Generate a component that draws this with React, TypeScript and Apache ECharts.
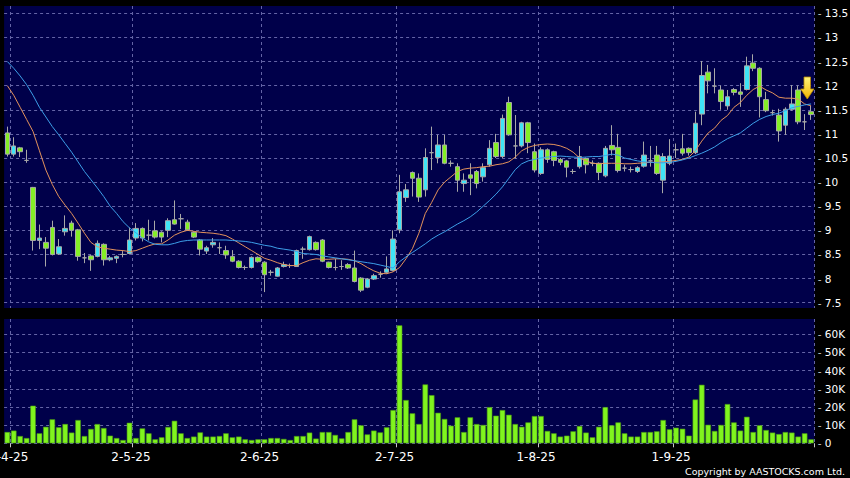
import React, { useEffect, useRef } from "react";
import * as echarts from "echarts";

const dates = [
  "31-3-25",
  "1-4-25","2-4-25","3-4-25","7-4-25","8-4-25","9-4-25","10-4-25","11-4-25","14-4-25","15-4-25","16-4-25","17-4-25","22-4-25","23-4-25","24-4-25","25-4-25","28-4-25","29-4-25","30-4-25",
  "2-5-25","6-5-25","7-5-25","8-5-25","9-5-25","12-5-25","13-5-25","14-5-25","15-5-25","16-5-25","19-5-25","20-5-25","21-5-25","22-5-25","23-5-25","26-5-25","27-5-25","28-5-25","29-5-25","30-5-25",
  "2-6-25","3-6-25","4-6-25","5-6-25","6-6-25","9-6-25","10-6-25","11-6-25","12-6-25","13-6-25","16-6-25","17-6-25","18-6-25","19-6-25","20-6-25","23-6-25","24-6-25","25-6-25","26-6-25","27-6-25","30-6-25",
  "2-7-25","3-7-25","4-7-25","7-7-25","8-7-25","9-7-25","10-7-25","11-7-25","14-7-25","15-7-25","16-7-25","17-7-25","18-7-25","21-7-25","22-7-25","23-7-25","24-7-25","25-7-25","28-7-25","29-7-25","30-7-25","31-7-25",
  "1-8-25","4-8-25","5-8-25","6-8-25","7-8-25","8-8-25","11-8-25","12-8-25","13-8-25","14-8-25","15-8-25","18-8-25","19-8-25","20-8-25","21-8-25","22-8-25","25-8-25","26-8-25","27-8-25","28-8-25","29-8-25",
  "1-9-25","2-9-25","3-9-25","4-9-25","5-9-25","8-9-25","9-9-25","10-9-25","11-9-25","12-9-25","15-9-25","16-9-25","17-9-25","18-9-25","19-9-25","22-9-25","23-9-25","24-9-25","25-9-25","26-9-25","29-9-25","30-9-25",
];

const tickDates = ["1-4-25", "2-5-25", "2-6-25", "2-7-25", "1-8-25", "1-9-25"];

// [open, close, low, high]
const candles: number[][] = [
  [11.02,10.58,10.53,11.15],[10.58,10.75,10.53,10.93],[10.71,10.63,10.52,10.73],[10.45,10.45,10.40,10.67],
  [9.89,8.79,8.58,9.90],[8.79,8.84,8.61,9.12],[8.75,8.63,8.25,8.86],[9.06,8.50,8.48,9.20],[8.51,8.66,8.49,8.82],
  [8.97,9.04,8.89,9.31],[9.15,9.00,8.87,9.20],[9.01,8.46,8.37,9.03],[8.43,8.43,8.32,8.53],[8.47,8.39,8.16,8.49],
  [8.46,8.73,8.44,8.79],[8.71,8.39,8.27,8.73],[8.39,8.43,8.36,8.47],[8.42,8.46,8.32,8.48],[8.50,8.50,8.44,8.57],
  [8.52,8.80,8.50,9.06],[8.84,9.04,8.79,9.15],[9.04,8.84,8.77,9.06],[8.90,8.90,8.79,9.22],[8.99,8.86,8.83,9.20],
  [8.96,8.86,8.75,8.98],[9.00,9.20,8.86,9.25],[9.22,9.13,9.12,9.62],[9.24,9.24,9.03,9.34],[9.17,9.01,8.99,9.22],
  [8.96,8.86,8.84,8.98],[8.80,8.61,8.48,8.82],[8.57,8.64,8.51,8.68],[8.70,8.75,8.64,8.84],[8.64,8.64,8.51,8.75],
  [8.58,8.49,8.41,8.68],[8.46,8.36,8.34,8.59],[8.36,8.23,8.21,8.38],[8.23,8.23,8.18,8.27],[8.23,8.44,8.21,8.46],
  [8.44,8.35,8.33,8.46],[8.34,8.08,7.72,8.36],[8.13,8.13,8.06,8.18],[8.05,8.22,8.04,8.24],[8.25,8.29,8.23,8.35],
  [8.27,8.27,8.22,8.31],[8.25,8.58,8.24,8.60],[8.61,8.61,8.41,8.66],[8.60,8.87,8.58,8.89],[8.75,8.60,8.58,8.77],
  [8.80,8.36,8.34,8.82],[8.34,8.23,8.21,8.35],[8.23,8.23,8.17,8.41],[8.25,8.25,8.18,8.38],[8.29,8.22,8.20,8.32],
  [8.22,7.94,7.92,8.58],[8.01,7.76,7.72,8.03],[7.82,7.99,7.80,8.01],[7.99,8.06,7.97,8.10],[8.09,8.09,8.02,8.15],
  [8.13,8.20,8.10,8.46],[8.17,8.82,8.15,9.00],[9.01,9.80,8.94,10.15],[9.68,9.84,9.59,9.96],[10.20,10.08,9.70,10.22],
  [10.08,9.69,9.59,10.18],[9.84,10.51,9.70,10.70],[10.61,10.61,10.25,11.15],[10.51,10.77,10.39,10.98],[10.77,10.39,10.37,10.98],
  [10.39,10.39,10.32,10.45],[10.32,10.04,9.80,10.39],[9.97,10.04,9.80,10.18],[10.15,10.08,9.73,10.39],[10.22,9.97,9.87,10.25],
  [10.11,10.30,10.01,10.39],[10.36,10.70,10.32,10.87],[10.82,10.53,10.50,11.00],[10.53,11.32,10.50,11.40],[11.65,10.98,10.96,11.77],
  [10.75,10.75,10.49,11.39],[10.75,11.23,10.72,11.25],[11.23,10.82,10.60,11.25],[10.63,10.25,10.20,10.80],[10.18,10.67,10.15,10.72],
  [10.67,10.47,10.40,10.70],[10.63,10.45,10.33,10.65],[10.47,10.41,10.35,10.50],[10.44,10.31,10.10,10.46],[10.22,10.22,10.17,10.27],
  [10.32,10.53,10.28,10.75],[10.49,10.36,10.18,10.51],[10.39,10.39,10.33,10.45],[10.39,10.20,10.04,10.41],[10.13,10.70,10.10,10.75],
  [10.76,10.67,10.55,11.18],[10.72,10.24,10.20,11.00],[10.29,10.29,10.22,10.36],[10.26,10.26,10.20,10.32],[10.22,10.30,10.19,10.33],
  [10.33,10.56,10.30,10.84],[10.44,10.44,10.32,10.75],[10.56,10.18,10.15,10.75],[10.04,10.53,9.77,10.60],[10.39,10.54,10.35,10.89],
  [10.67,10.67,10.50,10.80],[10.69,10.60,10.55,11.00],[10.70,10.61,10.55,10.72],[10.61,11.22,10.58,11.46],[11.41,12.21,11.18,12.51],
  [12.28,12.10,11.84,12.43],[11.99,11.99,11.84,12.36],[11.91,11.67,11.50,12.00],[11.58,11.77,11.50,11.91],[11.92,11.86,11.80,11.95],
  [11.87,11.82,11.56,12.05],[11.92,12.41,11.90,12.60],[12.47,12.36,12.30,12.65],[12.36,11.77,11.34,12.38],[11.71,11.48,11.45,11.87],
  [11.44,11.44,11.38,11.50],[11.39,11.06,10.84,11.52],[11.18,11.51,10.98,11.55],[11.51,11.62,11.48,12.01],[11.91,11.25,11.20,12.00],
  [11.25,11.25,11.08,11.41],[11.46,11.40,11.29,11.58],
];

const volumes = [
  6200,7000,4000,2900,20700,5500,9100,13200,8800,10600,
  5900,12800,4000,7900,10600,8400,4200,2900,1800,11300,
  2900,8200,5500,2200,3300,9000,12400,5500,2900,3700,
  6000,3700,3700,4000,5500,3300,3700,2200,1800,2200,
  2200,2900,2900,2400,1800,4000,4000,5900,2600,6200,
  6200,4600,2700,6200,13200,9900,4900,7000,6000,8800,
  18300,64900,23800,16500,10600,32400,26500,16800,13400,9700,
  14300,6200,14300,10600,10100,19900,15200,18300,15700,10600,
  9100,11500,15000,15000,6800,5500,3700,4200,6600,9500,
  5900,3300,9100,19900,9900,11500,5500,3700,3700,6200,
  6200,6600,12800,7700,8600,8000,4200,24100,32200,10200,
  6800,10100,21600,11500,7000,14600,6200,9900,7300,5900,
  5100,6200,5900,3700,5500,2200,
];

const maShort = [
  12.00,11.80,11.55,11.30,11.05,10.65,10.25,9.95,9.70,9.52,
  9.35,9.15,8.94,8.75,8.66,8.63,8.61,8.59,8.58,8.56,
  8.58,8.63,8.68,8.72,8.72,8.80,8.90,8.96,9.00,8.98,
  8.96,8.95,8.94,8.92,8.89,8.82,8.74,8.66,8.58,8.50,
  8.42,8.38,8.33,8.29,8.27,8.27,8.33,8.38,8.41,8.40,
  8.40,8.41,8.41,8.40,8.37,8.31,8.23,8.16,8.11,8.10,
  8.14,8.23,8.41,8.62,8.94,9.35,9.58,9.84,10.00,10.11,
  10.22,10.27,10.29,10.30,10.32,10.33,10.36,10.38,10.42,10.52,
  10.65,10.72,10.76,10.78,10.79,10.78,10.75,10.70,10.62,10.50,
  10.44,10.39,10.38,10.39,10.39,10.39,10.38,10.38,10.39,10.40,
  10.41,10.41,10.42,10.43,10.45,10.47,10.52,10.65,10.85,11.02,
  11.12,11.28,11.38,11.55,11.65,11.80,11.92,11.99,11.91,11.85,
  11.76,11.74,11.74,11.72,11.62,11.58,
];

const maLong = [
  12.50,12.36,12.20,12.02,11.80,11.55,11.35,11.15,10.98,10.80,
  10.62,10.42,10.22,10.05,9.88,9.70,9.50,9.35,9.18,9.05,
  8.95,8.84,8.76,8.71,8.70,8.70,8.73,8.77,8.79,8.80,
  8.80,8.80,8.80,8.80,8.80,8.79,8.78,8.77,8.75,8.72,
  8.69,8.67,8.63,8.61,8.59,8.56,8.52,8.51,8.50,8.47,
  8.45,8.43,8.41,8.39,8.37,8.35,8.33,8.31,8.28,8.25,
  8.22,8.35,8.45,8.54,8.63,8.72,8.82,8.90,8.97,9.05,
  9.13,9.20,9.28,9.38,9.50,9.62,9.75,9.90,10.08,10.26,
  10.38,10.44,10.47,10.50,10.52,10.53,10.54,10.53,10.52,10.51,
  10.52,10.53,10.53,10.55,10.58,10.56,10.50,10.47,10.44,10.42,
  10.41,10.40,10.40,10.41,10.43,10.46,10.50,10.55,10.60,10.66,
  10.73,10.82,10.90,10.96,11.02,11.12,11.22,11.30,11.36,11.40,
  11.43,11.48,11.54,11.57,11.60,11.62,
];

const FONT = "DejaVu Sans";
const NAVY = "#00004a";
const GRID_LINE = { color: "#6464a6", type: [3, 3] as number[], width: 1 };

export default function App() {
  const ref = useRef<HTMLDivElement>(null);

  useEffect(() => {
    if (!ref.current) return;
    const chart = echarts.init(ref.current, null, { renderer: "svg" });
    const tickIdx = new Set(tickDates.map((d) => dates.indexOf(d)));
    const isTick = (i: number) => tickIdx.has(i);

    const gridBase = {
      left: 4.1, width: 810.2, show: true, backgroundColor: NAVY, borderWidth: 0,
      containLabel: false, outerBoundsMode: "none",
    };

    const option: any = {
      animation: false,
      backgroundColor: "#000000",
      textStyle: { fontFamily: FONT },
      grid: [
        { ...gridBase, top: 6, height: 302 },
        { ...gridBase, top: 319, height: 124.3 },
      ],
      xAxis: [
        {
          type: "category", gridIndex: 0, data: dates, boundaryGap: true,
          axisLine: { show: false }, axisTick: { show: false }, axisLabel: { show: false },
          splitLine: { show: true, interval: isTick, lineStyle: GRID_LINE },
        },
        {
          type: "category", gridIndex: 1, data: dates, boundaryGap: true,
          axisLine: { show: false },
          axisTick: { show: true, interval: isTick, length: 4, lineStyle: { color: "#c8c8c8" } },
          axisLabel: {
            interval: isTick, color: "#ffffff", fontSize: 12, fontFamily: FONT,
            margin: 8, hideOverlap: false, padding: [0, 10, 0, 0],
          },
          splitLine: { show: true, interval: isTick, lineStyle: GRID_LINE },
        },
      ],
      yAxis: [
        {
          type: "value", gridIndex: 0, position: "right", min: 7.39, max: 13.651, splitNumber: 12,
          axisLine: { show: false }, axisTick: { show: false },
          axisLabel: {
            showMinLabel: false, showMaxLabel: false, margin: 3.4,
            formatter: (v: number) => `{t|-} ${v}`,
            color: "#ffffff", fontSize: 10.5, fontFamily: FONT,
            rich: { t: { color: "#c8c8c8", fontSize: 10.5, fontFamily: FONT } },
          },
          splitLine: { show: true, showMinLine: false, showMaxLine: false, lineStyle: GRID_LINE },
        },
        {
          type: "value", gridIndex: 1, position: "right", min: 0, max: 68400, splitNumber: 7,
          axisLine: { show: false }, axisTick: { show: false },
          axisLabel: {
            showMaxLabel: false, margin: 3.4,
            formatter: (v: number) => `{t|-} ${v === 0 ? "0" : v / 1000 + "K"}`,
            color: "#ffffff", fontSize: 10.5, fontFamily: FONT,
            rich: { t: { color: "#c8c8c8", fontSize: 10.5, fontFamily: FONT } },
          },
          splitLine: { show: true, showMaxLine: false, lineStyle: GRID_LINE },
        },
      ],
      series: [
        {
          type: "candlestick", xAxisIndex: 0, yAxisIndex: 0, data: candles, barWidth: 5,
          itemStyle: {
            color: "#3fe4f6", color0: "#84ee26",
            borderColor: "#a8a8a8", borderColor0: "#a8a8a8", borderColorDoji: "#a8a8a8",
            borderWidth: 1,
          },
        },
        {
          type: "line", xAxisIndex: 0, yAxisIndex: 0, data: maShort, showSymbol: false,
          lineStyle: { color: "#e3925c", width: 1 }, z: 3,
        },
        {
          type: "line", xAxisIndex: 0, yAxisIndex: 0, data: maLong, showSymbol: false,
          lineStyle: { color: "#3d9ee8", width: 1 }, z: 3,
        },
        {
          type: "bar", xAxisIndex: 1, yAxisIndex: 1, data: volumes, barWidth: 5.5,
          itemStyle: { color: "#80f41e", borderColor: "#4a9a12", borderWidth: 0.6 },
        },
      ],
      graphic: {
        elements: [
          {
            type: "polygon", z: 100,
            shape: { points: [[804, 77], [810.5, 77], [810.5, 89], [814, 89], [807.3, 99], [800.6, 89], [804, 89]] },
            style: {
              fill: new echarts.graphic.LinearGradient(0, 0, 0, 1, [
                { offset: 0, color: "#fff27a" },
                { offset: 1, color: "#f2b400" },
              ]),
              stroke: "#b88a00", lineWidth: 0.8,
            },
          },
          {
            type: "text", z: 100, x: 845, y: 471,
            style: {
              text: "Copyright by AASTOCKS.com Ltd.", fill: "#ffffff",
              font: `9.5px "${FONT}"`, textAlign: "right", textVerticalAlign: "middle",
            },
          },
        ],
      },
    };
    chart.setOption(option);
    return () => chart.dispose();
  }, []);

  return (
    <div
      ref={ref}
      style={{ position: "fixed", left: 0, top: 0, width: 850, height: 478, background: "#000" }}
    />
  );
}
